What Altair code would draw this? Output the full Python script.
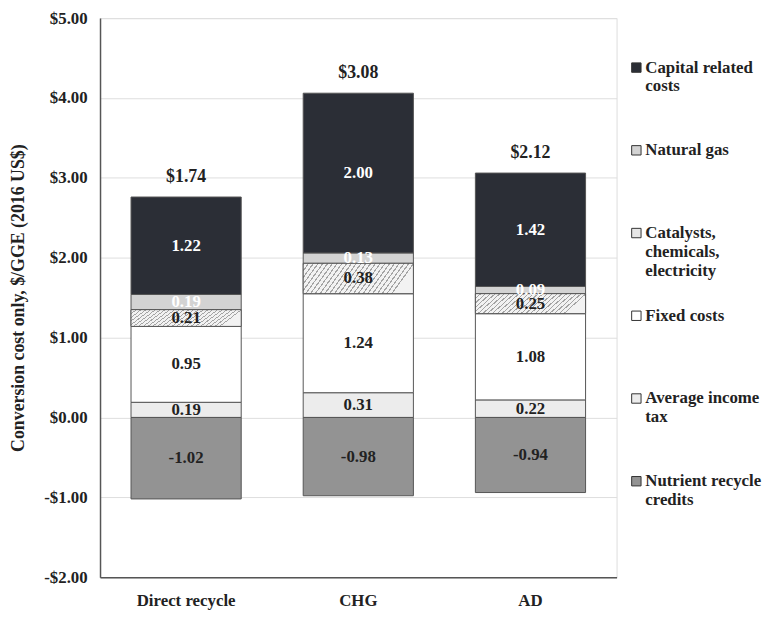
import altair as alt
import pandas as pd

scenarios = ["Direct recycle", "CHG", "AD"]
categories = [
    "Average income tax",
    "Fixed costs",
    "Catalysts, chemicals, electricity",
    "Natural gas",
    "Capital related costs",
    "Nutrient recycle credits",
]
tax = [0.19, 0.31, 0.22]
fixed = [0.95, 1.24, 1.08]
catalysts = [0.21, 0.38, 0.25]
natural_gas = [0.19, 0.13, 0.09]
capital = [1.22, 2.00, 1.42]
credits = [-1.02, -0.98, -0.94]

legend_order = [
    "Capital related costs",
    "Natural gas",
    "Catalysts, chemicals, electricity",
    "Fixed costs",
    "Average income tax",
    "Nutrient recycle credits",
]
legend_lines = [
    "Capital related|costs",
    "Natural gas",
    "Catalysts,|chemicals,|electricity",
    "Fixed costs",
    "Average income|tax",
    "Nutrient recycle|credits",
]
fill_colors = ["#ececec", "#ffffff", "#e6e6e6", "#d3d3d3", "#2b2e36", "#939393"]

series = [tax, fixed, catalysts, natural_gas, capital, credits]
rows = []
for j, cat in enumerate(categories):
    for i, sc in enumerate(scenarios):
        rows.append({"scenario": sc, "category": cat, "value": series[j][i], "order": j})
df = pd.DataFrame(rows)

legend_df = pd.DataFrame(
    {"category": legend_order, "lines": legend_lines, "row": list(range(len(legend_order)))}
)

FONT = "Liberation Serif, Times New Roman, serif"
W, H = 522, 565

color_scale = alt.Scale(domain=categories, range=fill_colors)

y_axis = alt.Axis(
    values=list(range(-2, 6)),
    labelExpr="(datum.value < 0 ? '-' : '') + '$' + format(abs(datum.value), '.2f')",
    title="Conversion cost only, $/GGE (2016 US$)",
    titleFont=FONT,
    titleFontSize=18,
    titleFontWeight="bold",
    titleColor="#222",
    titleX=-82,
    titleY=H / 2,
    titleAngle=270,
    titleAlign="center",
    titleBaseline="middle",
    labelFont=FONT,
    labelFontSize=17,
    labelFontWeight="bold",
    labelColor="#222",
    labelPadding=13,
    ticks=False,
    tickSize=0,
    grid=True,
    gridColor="#dedede",
    gridWidth=1,
    domainColor="#555",
    domainWidth=1.5,
)
x_axis = alt.Axis(
    title=None,
    labelAngle=0,
    labelFont=FONT,
    labelFontSize=17,
    labelFontWeight="bold",
    labelColor="#222",
    labelPadding=16,
    ticks=False,
    tickSize=0,
    domainColor="#555",
    domainWidth=1.5,
)
y_scale = alt.Scale(domain=[-2, 5], nice=False, zero=False)
x_enc = alt.X(
    "scenario:N",
    sort=scenarios,
    scale=alt.Scale(paddingInner=0.36, paddingOuter=0.18),
    axis=x_axis,
)

base = (
    alt.Chart(df)
    .transform_stack(
        stack="value",
        groupby=["scenario"],
        as_=["y0", "y1"],
        sort=[alt.SortField("order", order="ascending")],
    )
    .transform_calculate(
        mid="(datum.y0 + datum.y1) / 2",
        lab="(datum.value < 0 ? '-' : '') + format(abs(datum.value), '.2f')",
    )
)

bars = base.mark_bar(stroke="#555", strokeWidth=1).encode(
    x=x_enc,
    y=alt.Y("y0:Q", scale=y_scale, axis=y_axis),
    y2="y1:Q",
    color=alt.Color("category:N", scale=color_scale, legend=None),
)

hatch_stops = []
n = 24
for k in range(n):
    a = k / n
    b = (k + 0.28) / n
    c = (k + 1) / n
    hatch_stops += [
        {"color": "#a4a4a4", "offset": a},
        {"color": "#a4a4a4", "offset": b},
        {"color": "#f2f2f2", "offset": b},
        {"color": "#f2f2f2", "offset": c},
    ]
hatch_fill = {
    "gradient": "linear",
    "x1": 0,
    "y1": 0,
    "x2": 1,
    "y2": 0.2,
    "stops": hatch_stops,
}

hatch = (
    base.transform_filter(alt.datum.category == "Catalysts, chemicals, electricity")
    .mark_bar(fill=hatch_fill, stroke="#555", strokeWidth=1)
    .encode(
        x=x_enc,
        y=alt.Y("y0:Q", scale=y_scale, axis=y_axis),
        y2="y1:Q",
    )
)

seg_text = base.mark_text(
    font=FONT, fontSize=17, fontWeight="bold", baseline="middle", align="center"
).encode(
    x=x_enc,
    y=alt.Y("mid:Q", scale=y_scale, axis=y_axis),
    text="lab:N",
    color=alt.condition(
        "datum.category == 'Capital related costs' || datum.category == 'Natural gas'",
        alt.value("#ffffff"),
        alt.value("#222222"),
    ),
)

totals = (
    alt.Chart(df)
    .transform_calculate(pos="max(datum.value, 0)")
    .transform_aggregate(net="sum(value)", top="sum(pos)", groupby=["scenario"])
    .transform_calculate(tlab="'$' + format(datum.net, '.2f')")
    .mark_text(
        font=FONT, fontSize=18, fontWeight="bold", baseline="middle", align="center",
        dy=-20, color="#222"
    )
    .encode(
        x=x_enc,
        y=alt.Y("top:Q", scale=y_scale, axis=y_axis),
        text="tlab:N",
    )
)

main = alt.layer(bars, hatch, seg_text, totals)

leg_y = alt.Y("row:Q", scale=alt.Scale(domain=[0, 5], range=[50, 468]), axis=None)
leg_sq = alt.Chart(legend_df).mark_square(
    size=90, stroke="#333", strokeWidth=1, opacity=1
).encode(
    x=alt.value(W + 20),
    y=leg_y,
    color=alt.Color("category:N", scale=color_scale, legend=None),
)
leg_txt = alt.Chart(legend_df).mark_text(
    font=FONT, fontSize=17, fontWeight="bold", align="left", baseline="top",
    lineBreak="|", lineHeight=19, dy=-8, color="#222"
).encode(
    x=alt.value(W + 29),
    y=leg_y,
    text="lines:N",
)
legend_layer = alt.layer(leg_sq, leg_txt)

chart = (
    alt.layer(main, legend_layer)
    .resolve_scale(y="independent")
    .properties(
        width=W,
        height=H,
        autosize=alt.AutoSizeParams(type="none"),
        padding={"left": 93, "top": 7, "right": 150, "bottom": 38},
    )
    .configure_view(stroke="#9a9a9a", strokeWidth=1.5)
    .configure(background="white")
)

chart.save("out.html", embed_options={"renderer": "svg", "actions": False})
